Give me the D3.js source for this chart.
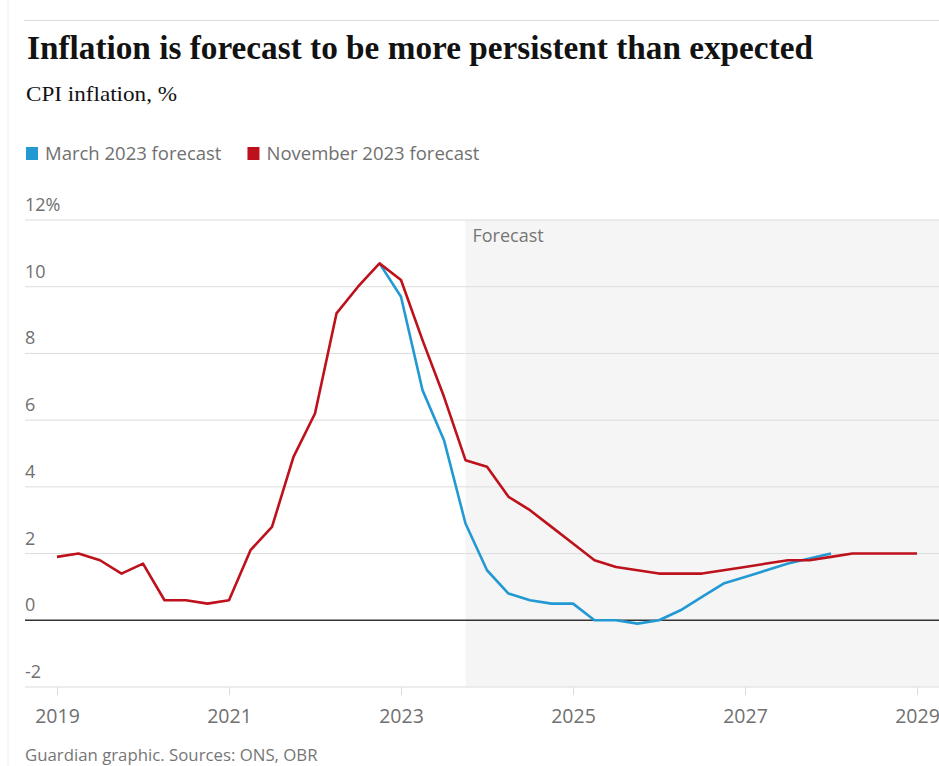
<!DOCTYPE html>
<html><head><meta charset="utf-8">
<script src="https://cdn.jsdelivr.net/npm/d3@7"></script>
<style>body{margin:0;background:#fff} svg{display:block}</style>
</head><body>
<script>
// ---- data ----
const periods = [
  "2019 Q1","2019 Q2","2019 Q3","2019 Q4",
  "2020 Q1","2020 Q2","2020 Q3","2020 Q4",
  "2021 Q1","2021 Q2","2021 Q3","2021 Q4",
  "2022 Q1","2022 Q2","2022 Q3","2022 Q4",
  "2023 Q1","2023 Q2","2023 Q3","2023 Q4",
  "2024 Q1","2024 Q2","2024 Q3","2024 Q4",
  "2025 Q1","2025 Q2","2025 Q3","2025 Q4",
  "2026 Q1","2026 Q2","2026 Q3","2026 Q4",
  "2027 Q1","2027 Q2","2027 Q3","2027 Q4",
  "2028 Q1","2028 Q2","2028 Q3","2028 Q4",
  "2029 Q1"
];
const novemberForecast = [
  1.9, 2.0, 1.8, 1.4,
  1.7, 0.6, 0.6, 0.5,
  0.6, 2.1, 2.8, 4.9,
  6.2, 9.2, 10.0, 10.7,
  10.2, 8.4, 6.7, 4.8,
  4.6, 3.7, 3.3, 2.8,
  2.3, 1.8, 1.6, 1.5,
  1.4, 1.4, 1.4, 1.5,
  1.6, 1.7, 1.8, 1.8,
  1.9, 2.0, 2.0, 2.0,
  2.0
];
const marchPeriods = [
  "2022 Q4",
  "2023 Q1","2023 Q2","2023 Q3","2023 Q4",
  "2024 Q1","2024 Q2","2024 Q3","2024 Q4",
  "2025 Q1","2025 Q2","2025 Q3","2025 Q4",
  "2026 Q1","2026 Q2","2026 Q3","2026 Q4",
  "2027 Q1","2027 Q2","2027 Q3","2027 Q4",
  "2028 Q1"
];
const marchForecast = [
  10.7,
  9.7, 6.9, 5.4, 2.9,
  1.5, 0.8, 0.6, 0.5,
  0.5, 0.0, 0.0, -0.1,
  0.0, 0.3, 0.7, 1.1,
  1.3, 1.5, 1.7, 1.85,
  2.0
];
const seriesNames = ["March 2023 forecast", "November 2023 forecast"];
const seriesColors = ["#2399d3", "#bd111b"];
const yTicks = [-2, 0, 2, 4, 6, 8, 10, 12];
const yTickLabels = ["-2", "0", "2", "4", "6", "8", "10", "12%"];
const xTicks = [2019, 2021, 2023, 2025, 2027, 2029];
const forecastStart = "2023 Q4";

// ---- drawing ----
const W = 939, H = 766;
const toYear = p => +p.slice(0, 4) + (+p.slice(6) - 1) / 4;

const svg = d3.select("body").append("svg").attr("width", W).attr("height", H);
svg.append("rect").attr("width", W).attr("height", H).attr("fill", "#fff");

const x = d3.scaleLinear().domain([2019, 2029]).range([57, 917]);
const y = d3.scaleLinear().domain([-2, 12]).range([687, 220]);

// frame lines
svg.append("line").attr("x1", 8).attr("x2", 8).attr("y1", 0).attr("y2", H)
  .attr("stroke", "#ececec").attr("stroke-width", 1);
svg.append("line").attr("x1", 24).attr("x2", W).attr("y1", 20.5).attr("y2", 20.5)
  .attr("stroke", "#dcdcdc").attr("stroke-width", 1);

// title
svg.append("text").attr("x", 27).attr("y", 59)
  .attr("font-family", "'Liberation Serif', 'DejaVu Serif', serif")
  .attr("font-weight", "bold").attr("font-size", 33).attr("fill", "#121212")
  .attr("textLength", 786).attr("lengthAdjust", "spacingAndGlyphs")
  .text("Inflation is forecast to be more persistent than expected");
svg.append("text").attr("x", 26).attr("y", 101)
  .attr("font-family", "'Liberation Serif', 'DejaVu Serif', serif")
  .attr("font-size", 21).attr("fill", "#121212")
  .attr("textLength", 151).attr("lengthAdjust", "spacingAndGlyphs")
  .text("CPI inflation, %");

// legend
const font = "'Open Sans', 'Noto Sans', sans-serif";
let lx = 26;
seriesNames.forEach((name, i) => {
  svg.append("rect").attr("x", lx).attr("y", 147).attr("width", 12).attr("height", 13)
    .attr("fill", seriesColors[i]);
  const t = svg.append("text").attr("x", lx + 19).attr("y", 160)
    .attr("font-family", font).attr("font-size", 18.5).attr("fill", "#707070")
    .text(name);
  lx = lx + 19 + t.node().getComputedTextLength() + 26;
});

// forecast shading
const fx = x(toYear(forecastStart));
svg.append("rect").attr("x", fx).attr("y", y(12)).attr("width", W - fx)
  .attr("height", y(-2) - y(12)).attr("fill", "#f5f5f5");
svg.append("text").attr("x", fx + 7).attr("y", 242)
  .attr("font-family", font).attr("font-size", 18).attr("fill", "#767676")
  .text("Forecast");

// y gridlines + labels
const yg = svg.append("g");
yTicks.forEach((t, i) => {
  yg.append("line").attr("x1", 25).attr("x2", W).attr("y1", y(t)).attr("y2", y(t))
    .attr("stroke", t === 0 ? "#333" : "#dcdcdc").attr("stroke-width", t === 0 ? 1.5 : 1);
  yg.append("text").attr("x", 25).attr("y", y(t) - 9)
    .attr("font-family", font).attr("font-size", 18).attr("fill", "#707070")
    .text(yTickLabels[i]);
});

// x axis
const xAxis = d3.axisBottom(x).tickValues(xTicks).tickFormat(d3.format("d"))
  .tickSize(8).tickPadding(14);
const xg = svg.append("g").attr("transform", `translate(0,${y(-2)})`).call(xAxis);
xg.select(".domain").remove();
xg.selectAll(".tick line").attr("stroke", "#dcdcdc");
xg.selectAll(".tick text").attr("font-family", font).attr("font-size", 19.5)
  .attr("fill", "#707070");

// lines
const line = d3.line().x(d => x(d[0])).y(d => y(d[1]));
const marchData = marchPeriods.map((p, i) => [toYear(p), marchForecast[i]]);
const novData = periods.map((p, i) => [toYear(p), novemberForecast[i]]);
svg.append("path").datum(marchData).attr("d", line).attr("fill", "none")
  .attr("stroke", seriesColors[0]).attr("stroke-width", 2.6).attr("stroke-linejoin", "round");
svg.append("path").datum(novData).attr("d", line).attr("fill", "none")
  .attr("stroke", seriesColors[1]).attr("stroke-width", 2.6).attr("stroke-linejoin", "round");

// footer
svg.append("text").attr("x", 25).attr("y", 761)
  .attr("font-family", font).attr("font-size", 16.8).attr("fill", "#767676")
  .text("Guardian graphic. Sources: ONS, OBR");
</script>
</body></html>
